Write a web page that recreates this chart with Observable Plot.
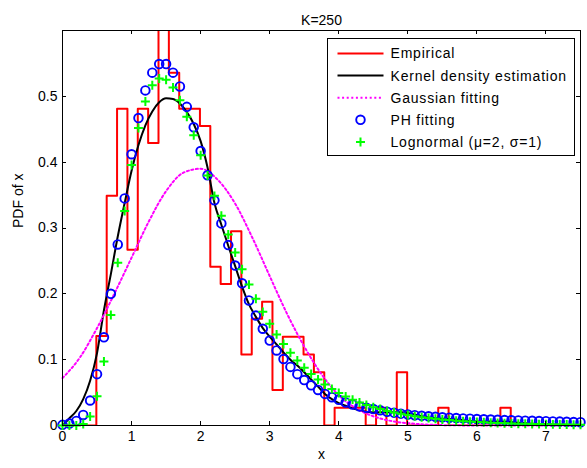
<!DOCTYPE html>
<html><head><meta charset="utf-8">
<script src="https://cdn.jsdelivr.net/npm/d3@7"></script>
<script src="https://cdn.jsdelivr.net/npm/@observablehq/plot@0.6"></script>
<style>
body{margin:0;background:#fff;}
#chart{width:587px;height:468px;}
</style></head><body><div id="chart"></div>
<script>
// ---------- data ----------
const titleText = "K=250";
const xLabel = "x";
const yLabel = "PDF of x";
const xTicks = [0,1,2,3,4,5,6,7];
const yTicks = [0,0.1,0.2,0.3,0.4,0.5];
const legendLabels = ["Empirical","Kernel density estimation","Gaussian fitting","PH fitting","Lognormal (\u03bc=2, \u03c3=1)"];

// Empirical histogram (stairs): bin left edges + final edge, and bin heights
const histEdges = [0.04,0.19,0.34,0.49,0.64,0.79,0.94,1.09,1.24,1.39,1.54,1.69,1.84,1.99,2.14,2.29,2.44,2.59,2.74,2.89,3.04,3.19,3.34,3.49,3.64,3.79,3.94,4.09,4.24,4.39,4.54,4.69,4.84,4.99,5.14,5.29,5.44,5.59,5.74,5.89,6.04,6.19,6.34,6.49,6.64];
const histHeights = [0,0,0,0.136,0.349,0.481,0.267,0.481,0.429,0.64,0.536,0.481,0.481,0.455,0.241,0.215,0.295,0.108,0.162,0.188,0.054,0.135,0.135,0.108,0.081,0,0.027,0.027,0.027,0,0.027,0,0.081,0,0,0,0.027,0,0,0,0,0,0.027,0];

// Kernel density estimate
const kdeX = [0,0.1,0.2,0.3,0.4,0.5,0.6,0.7,0.8,0.9,1.0,1.1,1.2,1.3,1.4,1.5,1.6,1.7,1.8,1.9,2.0,2.1,2.2,2.3,2.4,2.5,2.6,2.7,2.8,2.9,3.0,3.1,3.2,3.3,3.4,3.5,3.6,3.7,3.8,3.9,4.0,4.1,4.2,4.3,4.4,4.5,4.7,4.9,5.0,5.2,5.4,5.6,5.8,6.0,6.2,6.4,6.6,7.0,7.5];
const kdeY = [0,0.011,0.022,0.04,0.068,0.11,0.175,0.23,0.287,0.338,0.387,0.426,0.456,0.477,0.491,0.497,0.496,0.489,0.476,0.458,0.432,0.392,0.338,0.305,0.273,0.242,0.211,0.184,0.165,0.148,0.135,0.123,0.111,0.1,0.091,0.081,0.07,0.059,0.048,0.04,0.034,0.03,0.026,0.023,0.021,0.02,0.02,0.02,0.019,0.014,0.011,0.01,0.008,0.006,0.006,0.006,0.004,0.002,0.001];

// Gaussian fitting
const gaussX = [0,0.25,0.5,0.75,1,1.25,1.5,1.75,2,2.25,2.5,2.75,3,3.25,3.5,3.75,4,4.25,4.5,4.75,5,5.25,5.5,5.75,6,6.5,7,7.5];
const gaussY = [0.072,0.103,0.148,0.2,0.255,0.31,0.356,0.384,0.39,0.373,0.337,0.285,0.227,0.17,0.12,0.078,0.046,0.026,0.014,0.007,0.0035,0.0015,0.0006,0.0002,0.0001,0,0,0];

// PH fitting and Lognormal markers
const fitX = [0,0.1,0.2,0.3,0.4,0.5,0.6,0.7,0.8,0.9,1,1.1,1.2,1.3,1.4,1.5,1.6,1.7,1.8,1.9,2,2.1,2.2,2.3,2.4,2.5,2.6,2.7,2.8,2.9,3,3.1,3.2,3.3,3.4,3.5,3.6,3.7,3.8,3.9,4,4.1,4.2,4.3,4.4,4.5,4.6,4.7,4.8,4.9,5,5.1,5.2,5.3,5.4,5.5,5.6,5.7,5.8,5.9,6,6.1,6.2,6.3,6.4,6.5,6.6,6.7,6.8,6.9,7,7.1,7.2,7.3,7.4,7.5];
const phY = [0.001,0.003,0.007,0.016,0.038,0.078,0.134,0.200,0.275,0.345,0.412,0.467,0.509,0.536,0.549,0.549,0.536,0.515,0.484,0.453,0.417,0.380,0.342,0.307,0.274,0.243,0.216,0.190,0.167,0.147,0.129,0.114,0.101,0.089,0.078,0.069,0.061,0.054,0.048,0.043,0.039,0.035,0.032,0.029,0.027,0.025,0.023,0.021,0.0195,0.018,0.0167,0.0157,0.0148,0.014,0.0132,0.0125,0.0119,0.0113,0.0108,0.0103,0.0099,0.0095,0.0091,0.0087,0.0083,0.008,0.0077,0.0074,0.0071,0.0068,0.0065,0.0062,0.0059,0.0056,0.0053,0.005];
const lognY = [0,0,0.0001,0.0022,0.0138,0.0443,0.0971,0.1678,0.2473,0.3259,0.3957,0.4520,0.4923,0.5170,0.5272,0.5252,0.5133,0.4939,0.4691,0.4409,0.4106,0.3796,0.3488,0.3187,0.2900,0.2628,0.2374,0.2140,0.1924,0.1726,0.1547,0.1384,0.1237,0.1105,0.0986,0.0879,0.0784,0.0699,0.0623,0.0555,0.0495,0.0441,0.0393,0.0351,0.0313,0.0279,0.0249,0.0222,0.0198,0.0177,0.0158,0.0142,0.0127,0.0113,0.0102,0.0091,0.0082,0.0073,0.0066,0.0059,0.0053,0.0048,0.0043,0.0039,0.0035,0.0031,0.0028,0.0025,0.0023,0.0021,0.0019,0.0017,0.0015,0.0014,0.0013,0.0011];

// ---------- build tables ----------
const histData = histEdges.map((e,i)=>({x:e, y: i < histHeights.length ? histHeights[i] : histHeights[histHeights.length-1]}));
const kdeData = kdeX.map((x,i)=>({x, y:kdeY[i]}));
const gaussData = gaussX.map((x,i)=>({x, y:gaussY[i]}));
const phData = fitX.map((x,i)=>({x, y:phY[i]}));
const lognData = fitX.map((x,i)=>({x, y:lognY[i]}));

const FONT = "'Liberation Sans', Arial, Helvetica, sans-serif";
const colors = {emp:"#ff0000", kde:"#000000", gauss:"#ff00ff", ph:"#0000ff", logn:"#00ff00"};
const DOTS = "2,2.6";

const chart = Plot.plot({
  width: 587, height: 468,
  marginLeft: 62, marginRight: 7, marginTop: 30, marginBottom: 43,
  style: {fontFamily: FONT, fontSize: "14px", color: "#000", background: "#fff", overflow: "visible"},
  x: {domain: [0, 7.5]},
  y: {domain: [0, 0.6]},
  marks: [
    Plot.line(histData, {x:"x", y:"y", curve:"step-after", stroke:colors.emp, strokeWidth:2, clip:true}),
    Plot.line(kdeData, {x:"x", y:"y", curve:"monotone-x", stroke:colors.kde, strokeWidth:2}),
    Plot.line(gaussData, {x:"x", y:"y", curve:"monotone-x", stroke:colors.gauss, strokeWidth:2, strokeDasharray:DOTS}),
    Plot.dot(phData, {x:"x", y:"y", r:4.3, stroke:colors.ph, strokeWidth:1.9, fill:"none"}),
    Plot.dot(lognData, {x:"x", y:"y", symbol:"plus", r:3.0, stroke:colors.logn, strokeWidth:2}),
    Plot.frame({stroke:"#000", strokeWidth:1}),
    Plot.axisX({ticks: xTicks, tickSize: 0, tickPadding: 6, tickFormat: d=>String(d), label: null}),
    Plot.axisY({ticks: yTicks, tickSize: 0, tickPadding: 5, tickFormat: d=>String(d), label: null}),
    Plot.text([xLabel], {frameAnchor:"bottom", dy: 33, text: d=>d}),
    Plot.text([yLabel], {frameAnchor:"left", dx: -44, rotate: -90, text: d=>d}),
    Plot.text([titleText], {frameAnchor:"top", dy: -15, text: d=>d})
  ]
});
document.getElementById("chart").appendChild(chart);

// ---------- inward ticks on all four sides (MATLAB box style) ----------
const sx = chart.scale("x"), sy = chart.scale("y");
const [x0, x1] = sx.range, [yb, yt] = sy.range;
const svg = d3.select(chart);
const tg = svg.append("g").attr("stroke","#000").attr("stroke-width",1);
const TL = 4;
for (const t of xTicks) {
  const px = Math.round(sx.apply(t)) + 0.5;
  tg.append("line").attr("x1",px).attr("x2",px).attr("y1",yb).attr("y2",yb-TL);
  tg.append("line").attr("x1",px).attr("x2",px).attr("y1",yt).attr("y2",yt+TL);
}
for (const t of yTicks) {
  const py = Math.round(sy.apply(t)) + 0.5;
  tg.append("line").attr("x1",x0).attr("x2",x0+TL).attr("y1",py).attr("y2",py);
  tg.append("line").attr("x1",x1).attr("x2",x1-TL).attr("y1",py).attr("y2",py);
}

// ---------- legend ----------
const lg = svg.append("g").attr("font-family", FONT).attr("font-size", 14).attr("text-anchor","start");
const bx = 327.5, by = 38.5, bw = 247, bh = 117;
lg.append("rect").attr("x",bx).attr("y",by).attr("width",bw).attr("height",bh)
  .attr("fill","#fff").attr("stroke","#000").attr("stroke-width",1);
const rowY = i => by + 15 + i*22.1;
const sampleX0 = bx + 10, sampleX1 = bx + 56, textX = bx + 63;
const cx = (sampleX0 + sampleX1)/2;
[["emp",{w:2}],["kde",{w:2}],["gauss",{w:2,dash:DOTS}]].forEach(([k,o],i)=>{
  const l = lg.append("line").attr("x1",sampleX0).attr("x2",sampleX1).attr("y1",rowY(i)).attr("y2",rowY(i))
    .attr("stroke",colors[k]).attr("stroke-width",o.w);
  if (o.dash) l.attr("stroke-dasharray",o.dash);
});
lg.append("circle").attr("cx",cx).attr("cy",rowY(3)).attr("r",4.3).attr("fill","none").attr("stroke",colors.ph).attr("stroke-width",1.9);
lg.append("path").attr("d",`M${cx-4.5},${rowY(4)}H${cx+4.5}M${cx},${rowY(4)-4.5}V${rowY(4)+4.5}`).attr("stroke",colors.logn).attr("stroke-width",2);
legendLabels.forEach((t,i)=>{
  lg.append("text").attr("x",textX).attr("y",rowY(i)).attr("dy","0.35em").attr("fill","#000")
    .attr("text-anchor","start").attr("letter-spacing","0.8px").text(t);
});
</script>
</body></html>
